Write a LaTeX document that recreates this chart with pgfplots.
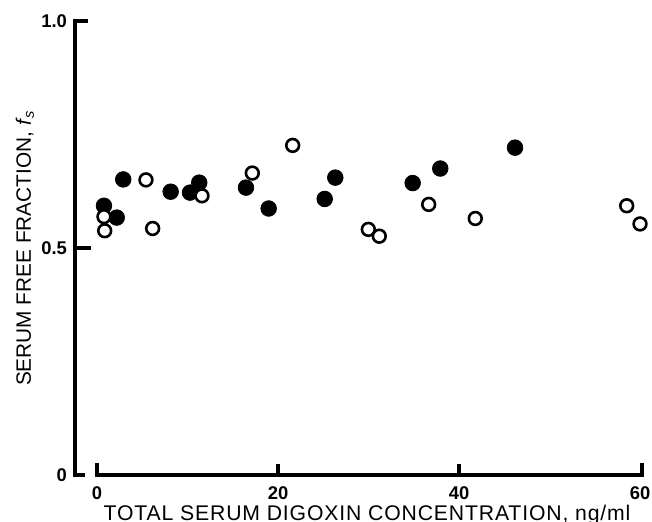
\documentclass[border=0pt]{standalone}
\usepackage{fontspec}
\setmainfont{Liberation Sans}
\usepackage{pgfplots}
\pgfplotsset{compat=1.18}

\begin{document}
\begin{tikzpicture}
\begin{axis}[
    scale only axis,
    width=283.5pt, height=227pt,
    xmin=-2.43, xmax=60.22,
    ymin=0, ymax=1,
    clip=false,
    axis line style={draw=none},
    major tick length=0pt,
    tick style={draw=none},
    xtick={0,20,40,60}, xticklabels={0,20,40,60},
    ytick={0,0.5,1}, yticklabels={0,0.5,1.0},
    xtick pos=lower, ytick pos=left,
    ticklabel style={font=\fontsize{9.2}{10}\selectfont\bfseries},
    xticklabel style={anchor=base, yshift=-12.5pt},
    yticklabel style={xshift=-0.5pt},
    xlabel={TOTAL SERUM DIGOXIN CONCENTRATION, ng/ml},
    ylabel={SERUM FREE FRACTION, \textit{f}\textsubscript{\textit{s}}},
    xlabel style={font=\fontsize{10.6}{12}\selectfont\addfontfeature{LetterSpace=4},
        at={([yshift=-22.8pt]axis description cs:0.515,0)}, anchor=base},
    ylabel style={font=\fontsize{10.4}{12}\selectfont,
        at={([xshift=-25pt]axis description cs:0,0.5)}, anchor=center},
]
\coordinate (O) at (rel axis cs:0,0);

% axes drawn by hand: the x line starts at 0, the y line sits left of it
\draw[line width=2.1pt, line join=miter]
    ([xshift=6.5pt]axis cs:-2.43,1) -- (axis cs:-2.43,1)
    -- (axis cs:-2.43,0) -- ([xshift=5pt]axis cs:-2.43,0);
\draw[line width=1.7pt] (axis cs:-2.43,0.5) -- ([xshift=8pt]axis cs:-2.43,0.5);
\draw[line width=2.1pt, line join=miter]
    ([yshift=6pt]axis cs:0,0) -- (axis cs:0,0)
    -- (axis cs:60.2,0) -- ([yshift=6pt]axis cs:60.2,0);
\draw[line width=1.7pt] (axis cs:20,0) -- ([yshift=5.5pt]axis cs:20,0);
\draw[line width=1.7pt] (axis cs:40,0) -- ([yshift=5.5pt]axis cs:40,0);

% filled circles
\addplot[only marks, mark=*, mark size=3.9pt, black] coordinates {
    (0.77,0.593) (2.18,0.567) (2.90,0.651) (8.14,0.624) (10.28,0.622)
    (11.30,0.644) (16.46,0.633) (18.97,0.587) (25.16,0.608) (26.33,0.655)
    (34.88,0.643) (37.93,0.675) (46.19,0.721)};
% open circles
\addplot[only marks, mark=*, mark size=3.2pt, line width=1.3pt,
    mark options={draw=black, fill=white}] coordinates {
    (0.77,0.569) (0.85,0.538) (5.41,0.650) (6.15,0.543) (11.60,0.615)
    (17.16,0.665) (21.62,0.726) (29.98,0.541) (31.19,0.526) (36.65,0.596)
    (41.80,0.565) (58.53,0.593) (60.00,0.553)};
\end{axis}
\pgfresetboundingbox
\path ([shift={(-37.5pt,-23.5pt)}]O) rectangle ([shift={(288.5pt,237.5pt)}]O);
\end{tikzpicture}
\end{document}
